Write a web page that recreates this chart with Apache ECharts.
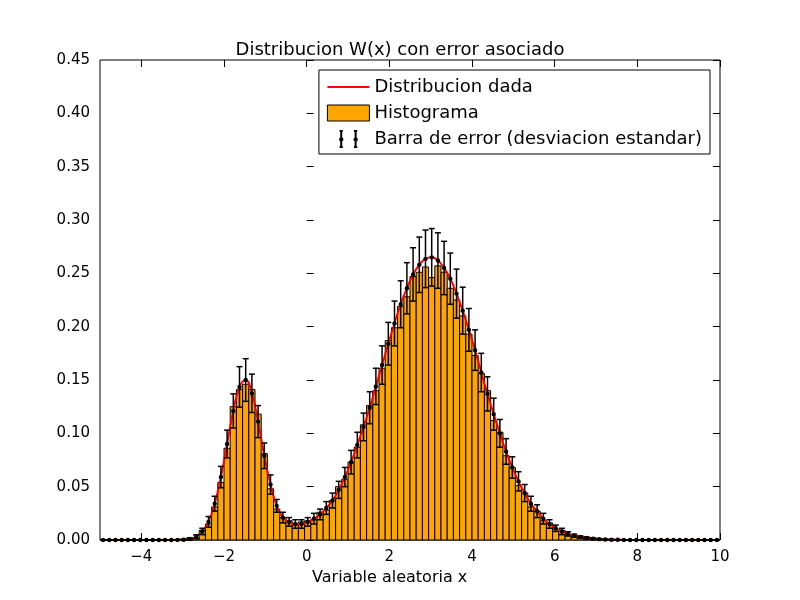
<!DOCTYPE html>
<html>
<head>
<meta charset="utf-8">
<script src="https://cdn.jsdelivr.net/npm/echarts@6/dist/echarts.min.js"></script>
<style>html,body{margin:0;padding:0;background:#fff}#chart{width:800px;height:600px}</style>
</head>
<body>
<div id="chart"></div>
<script>
// histogram bins: 100 bins of width 0.15 from -5 to 10
var binStart = -5;
var binWidth = 0.15;

// histogram heights
var histValues = [0,0,0,0,0,0,0,0,0,0,
	0,0.0003,0,0.0005,0.002,0.002,0.009,0.015,0.031,0.054,
	0.086,0.125,0.141,0.146,0.141,0.118,0.081,0.048,0.029,0.021,
	0.018,0.014,0.017,0.018,0.019,0.026,0.028,0.037,0.050,0.057,
	0.073,0.087,0.108,0.126,0.140,0.161,0.187,0.199,0.219,0.228,
	0.247,0.251,0.256,0.246,0.257,0.251,0.236,0.225,0.210,0.193,
	0.173,0.156,0.140,0.112,0.101,0.079,0.068,0.051,0.044,0.031,
	0.027,0.018,0.016,0.010,0.009,0.005,0.004,0.003,0.002,0.001,
	0.0008,0.0005,0.0003,0,0.0002,0,0,0,0,0,
	0,0,0,0,0,0,0,0,0,0];

// given distribution at bin centers
var curveValues = [0,0,0,0,0,0,0,0,0,0,
	0,0,0.0001,0.0003,0.001,0.003,0.008,0.017,0.034,0.059,
	0.090,0.121,0.1435,0.150,0.1375,0.111,0.079,0.052,0.032,0.021,
	0.017,0.015,0.015,0.017,0.020,0.024,0.030,0.037,0.047,0.059,
	0.073,0.089,0.106,0.124,0.144,0.164,0.184,0.203,0.221,0.236,
	0.249,0.258,0.2636,0.265,0.262,0.255,0.245,0.231,0.215,0.197,
	0.178,0.157,0.137,0.118,0.100,0.083,0.068,0.055,0.044,0.034,
	0.027,0.020,0.015,0.011,0.008,0.0057,0.004,0.0028,0.0019,0.0013,
	0.0008,0.0005,0.0003,0.0002,0.0001,0,0,0,0,0,
	0,0,0,0,0,0,0,0,0,0];

// standard deviation per bin
var errValues = [0,0,0,0,0,0,0,0,0,0,
	0,0,0.0003,0.0006,0.001,0.0018,0.003,0.005,0.007,0.010,
	0.013,0.016,0.019,0.020,0.018,0.015,0.012,0.009,0.006,0.005,
	0.004,0.004,0.004,0.004,0.005,0.005,0.006,0.007,0.008,0.009,
	0.011,0.012,0.013,0.015,0.017,0.018,0.020,0.021,0.022,0.024,
	0.025,0.026,0.027,0.027,0.026,0.025,0.024,0.023,0.022,0.020,
	0.019,0.018,0.016,0.015,0.013,0.012,0.010,0.009,0.008,0.007,
	0.006,0.005,0.004,0.003,0.003,0.002,0.0015,0.001,0.001,0.0008,
	0.0005,0.0004,0.0003,0.0002,0.0001,0,0,0,0,0,
	0,0,0,0,0,0,0,0,0,0];

var yTicks = {min: 0, max: 0.45, interval: 0.05};

var centers = histValues.map(function (v, i) { return binStart + binWidth * (i + 0.5); });
var histData = histValues.map(function (v, i) { return [centers[i], v]; });
var curveData = curveValues.map(function (v, i) { return [centers[i], v]; });
var errData = errValues.map(function (e, i) { return [centers[i], curveValues[i], e]; });

var font = 'DejaVu Sans';
var chart = echarts.init(document.getElementById('chart'));

var errIcon = 'path://M2,0 L6,0 M4,0 L4,20 M2,20 L6,20 M20,0 L24,0 M22,0 L22,20 M20,20 L24,20 M4,9 a1.5,1.5 0 1,0 0.1,0 M22,9 a1.5,1.5 0 1,0 0.1,0';

chart.setOption({
	animation: false,
	backgroundColor: '#fff',
	title: {
		text: 'Distribucion W(x) con error asociado',
		left: 'center', top: 36,
		textStyle: {fontFamily: font, fontSize: 18, fontWeight: 'normal', color: '#000'}
	},
	legend: {
		orient: 'vertical', right: 90, top: 70,
		padding: [8, 8, 6, 8], itemGap: 8,
		borderColor: '#000', borderWidth: 1, backgroundColor: '#fff', borderRadius: 0,
		itemWidth: 42, itemHeight: 16,
		textStyle: {fontFamily: font, fontSize: 18, color: '#000'},
		data: [
			{name: 'Distribucion dada', icon: 'path://M0,0 L40,0 L40,2 L0,2 Z', itemStyle: {color: '#ff0000'}},
			{name: 'Histograma', icon: 'rect', itemStyle: {color: '#FFA500', borderColor: '#000', borderWidth: 1}},
			{name: 'Barra de error (desviacion estandar)', icon: errIcon, itemStyle: {color: '#000', borderColor: '#000', borderWidth: 2}}
		]
	},
	grid: [
		{left: 100, right: 80, top: 60, bottom: 60, show: true, borderColor: '#000', borderWidth: 1},
		{left: 141.333, right: 80, top: 60, bottom: 60}
	],
	xAxis: [
		{type: 'value', gridIndex: 0, min: -5, max: 10, axisLine: {show: false}, axisTick: {show: false}, axisLabel: {show: false}, splitLine: {show: false}},
		{type: 'value', gridIndex: 1, min: -4, max: 10, interval: 2, position: 'bottom',
			name: 'Variable aleatoria x', nameLocation: 'middle', nameGap: 30,
			nameTextStyle: {fontFamily: font, fontSize: 16, color: '#000', padding: [0, 0, 0, -82]},
			axisLine: {show: false}, axisTick: {inside: true, length: 7, lineStyle: {color: '#000'}},
			axisLabel: {fontFamily: font, fontSize: 15, color: '#000', margin: 10, formatter: function (v) { return v < 0 ? '\u2212' + (-v) : v; }},
			splitLine: {show: false}},
		{type: 'value', gridIndex: 1, min: -4, max: 10, interval: 2, position: 'top',
			axisLine: {show: false}, axisTick: {inside: true, length: 7, lineStyle: {color: '#000'}},
			axisLabel: {show: false}, splitLine: {show: false}}
	],
	yAxis: [
		{type: 'value', gridIndex: 0, min: yTicks.min, max: yTicks.max, interval: yTicks.interval,
			axisLine: {show: false}, axisTick: {inside: true, length: 7, lineStyle: {color: '#000'}},
			axisLabel: {fontFamily: font, fontSize: 15, color: '#000', margin: 10, formatter: function (v) { return v.toFixed(2); }},
			splitLine: {show: false}},
		{type: 'value', gridIndex: 0, position: 'right', min: yTicks.min, max: yTicks.max, interval: yTicks.interval,
			axisLine: {show: false}, axisTick: {inside: true, length: 7, lineStyle: {color: '#000'}},
			axisLabel: {show: false}, splitLine: {show: false}},
		{type: 'value', gridIndex: 1, min: 0, max: 1, show: false}
	],
	series: [
		{
			name: 'Histograma', type: 'custom', xAxisIndex: 0, yAxisIndex: 0, z: 2,
			itemStyle: {color: '#FFA500'},
			data: histData,
			renderItem: function (params, api) {
				var x = api.value(0), v = api.value(1);
				var p0 = api.coord([x - binWidth / 2, v]);
				var p1 = api.coord([x + binWidth / 2, 0]);
				return {type: 'rect', shape: {x: p0[0], y: p0[1], width: p1[0] - p0[0], height: p1[1] - p0[1]},
					style: {fill: '#FFA500', stroke: '#000', lineWidth: 1}};
			}
		},
		{
			name: 'Distribucion dada', type: 'line', xAxisIndex: 0, yAxisIndex: 0, z: 3,
			data: curveData, showSymbol: false, smooth: true,
			lineStyle: {color: '#ff0000', width: 2}, itemStyle: {color: '#ff0000'}
		},
		{
			name: 'Barra de error (desviacion estandar)', type: 'custom', xAxisIndex: 0, yAxisIndex: 0, z: 4,
			itemStyle: {color: '#000'},
			data: errData,
			renderItem: function (params, api) {
				var x = api.value(0), v = api.value(1), e = api.value(2);
				var top = api.coord([x, v + e]);
				var bot = api.coord([x, v - e]);
				var mid = api.coord([x, v]);
				var style = {stroke: '#000', lineWidth: 1.5};
				return {type: 'group', children: [
					{type: 'line', shape: {x1: top[0], y1: top[1], x2: bot[0], y2: bot[1]}, style: style},
					{type: 'line', shape: {x1: top[0] - 3, y1: top[1], x2: top[0] + 3, y2: top[1]}, style: style},
					{type: 'line', shape: {x1: bot[0] - 3, y1: bot[1], x2: bot[0] + 3, y2: bot[1]}, style: style},
					{type: 'circle', shape: {cx: mid[0], cy: mid[1], r: 2.2}, style: {fill: '#000'}}
				]};
			}
		}
	]
});
</script>
</body>
</html>
